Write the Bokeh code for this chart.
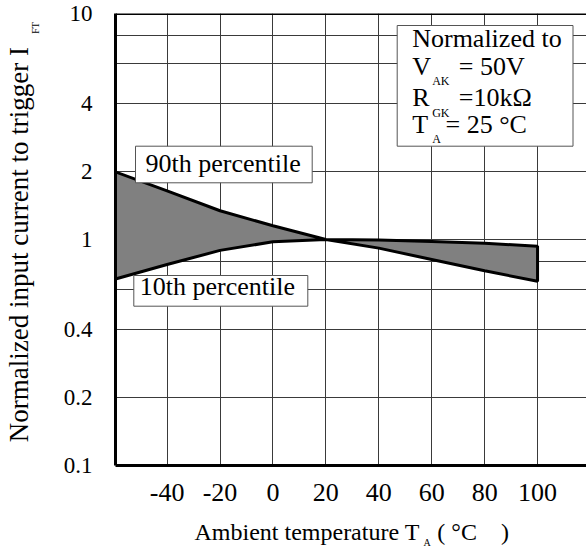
import math
from bokeh.plotting import figure
from bokeh.models import Range1d, FixedTicker, Label, BoxAnnotation, Span
from bokeh.embed import file_html
from bokeh.resources import INLINE

# ---- data ----
temperature_c = [-60, -40, -20, 0, 20, 40, 60, 80, 100]
p90_norm = [2.0, 1.64, 1.34, 1.15, 1.0, 0.916, 0.816, 0.727, 0.653]
p10_norm = [0.666, 0.775, 0.895, 0.977, 1.0, 0.995, 0.98, 0.963, 0.933]
x_ticks = [-40, -20, 0, 20, 40, 60, 80, 100]
x_tick_labels = ["-40", "-20", "0", "20", "40", "60", "80", "100"]
y_ticks = [0.1, 0.2, 0.4, 1, 2, 4, 10]
y_tick_labels = ["0.1", "0.2", "0.4", "1", "2", "4", "10"]
y_grid_lines = [0.2, 0.4, 0.6, 0.8, 1, 2, 4, 6, 8]

FONT = "Liberation Serif"

# layout constants (pixels)
FL, FT_, FW, FH = 115, 13, 471, 452
X0, X1, Y0, Y1 = -59.5, 118.5, 0.1, 10.0
MID = 0.34  # distance (in em) from text-box centre down to the baseline

p = figure(frame_width=FW, frame_height=FH,
           x_range=Range1d(X0, X1), y_range=Range1d(Y0, Y1),
           y_axis_type="log", output_backend="svg", toolbar_location=None,
           min_border_left=FL, min_border_right=0, min_border_top=FT_,
           min_border_bottom=547 - FT_ - FH)
p.outline_line_color = None
p.background_fill_color = "white"
p.border_fill_color = "white"

xa = p.xaxis[0]
xa.ticker = FixedTicker(ticks=x_ticks, minor_ticks=[])
xa.major_label_overrides = dict(zip(x_ticks, x_tick_labels))
ya = p.yaxis[0]
ya.ticker = FixedTicker(ticks=y_ticks, minor_ticks=[])
ya.major_label_overrides = dict(zip(y_ticks, y_tick_labels))
for ax in (xa, ya):
    ax.major_tick_in = 0
    ax.major_tick_out = 0
    ax.minor_tick_in = 0
    ax.minor_tick_out = 0
    ax.axis_line_width = 3
    ax.axis_line_color = "black"
    ax.major_label_text_font = FONT
    ax.major_label_text_color = "black"
xa.major_label_text_font_size = "26px"
xa.major_label_standoff = 18
ya.major_label_text_font_size = "23px"
ya.major_label_standoff = 23

p.xgrid.ticker = FixedTicker(ticks=x_ticks, minor_ticks=[])
p.ygrid.ticker = FixedTicker(ticks=y_grid_lines, minor_ticks=[])
for g in (p.xgrid[0], p.ygrid[0]):
    g.grid_line_color = "#3a3a3a"
    g.grid_line_width = 1
    g.grid_line_alpha = 1

p.add_layout(Span(location=Y1, dimension="width", line_color="black", line_width=3))

xs = temperature_c + temperature_c[::-1]
ys = p90_norm + p10_norm[::-1]
p.patch(xs, ys, fill_color="#808080", line_color="black", line_width=3)


def px_to_x(px):
    return X0 + (px - FL) / FW * (X1 - X0)


def py_to_y(py):
    ly = math.log10(Y1) - (py - FT_) / FH * (math.log10(Y1) - math.log10(Y0))
    return 10 ** ly


def box(l, r, t, b):
    # page pixels -> frame screen units
    p.add_layout(BoxAnnotation(left=l - FL, right=r - FL,
                               top=FT_ + FH - t, bottom=FT_ + FH - b,
                               left_units="screen", right_units="screen",
                               top_units="screen", bottom_units="screen",
                               fill_color="white", fill_alpha=1,
                               line_color="#555555", line_width=1, line_alpha=1))


def lab(text, px, py, size, rotated=False, side=None):
    # px, py: page pixel of the text start on its baseline
    if rotated:
        px = px - MID * size
        angle = math.pi / 2
    else:
        py = py - MID * size
        angle = 0.0
    kw = dict(text=text, text_font=FONT, text_font_size=f"{size}px",
              text_color="black", text_align="left",
              text_baseline="middle", angle=angle)
    if side is None:
        p.add_layout(Label(x=px - FL, y=FT_ + FH - py, x_units="screen",
                           y_units="screen", **kw))
    else:
        p.add_layout(Label(x=px_to_x(px), y=py_to_y(py), **kw), side)


# boxes (page pixels)
box(396.7, 572.5, 25, 145.7)
box(135, 311.7, 145.7, 182.3)
box(133.3, 307.3, 275, 305.7)

# conditions box text
lab("Normalized to", 411.7, 46.7, 26)
lab("V", 411.7, 75, 26)
lab("AK", 431.7, 85, 12)
lab("= 50V", 458.3, 75, 26)
lab("R", 411.7, 106, 26)
lab("GK", 431.7, 116.7, 12)
lab("=10kΩ", 458.3, 106, 26)
lab("T", 411.7, 133.3, 26)
lab("A", 431.7, 142.5, 12)
lab("= 25 °C", 445, 133.3, 26)

lab("90th percentile", 145, 171.7, 26)
lab("10th percentile", 139.3, 295, 26)

# axis titles (in side panels so they are not clipped)
lab("Ambient temperature T\u00a0\u00a0 ( °C\u00a0\u00a0\u00a0 )", 194, 539.3, 24, side="below")
lab("A", 423, 545, 10, side="above")
lab("Normalized input current to trigger I", 27.3, 441.7, 27, rotated=True, side="left")
lab("FT", 38.3, 33.3, 10, rotated=True, side="left")

open("out.html", "w").write(file_html(p, INLINE))
